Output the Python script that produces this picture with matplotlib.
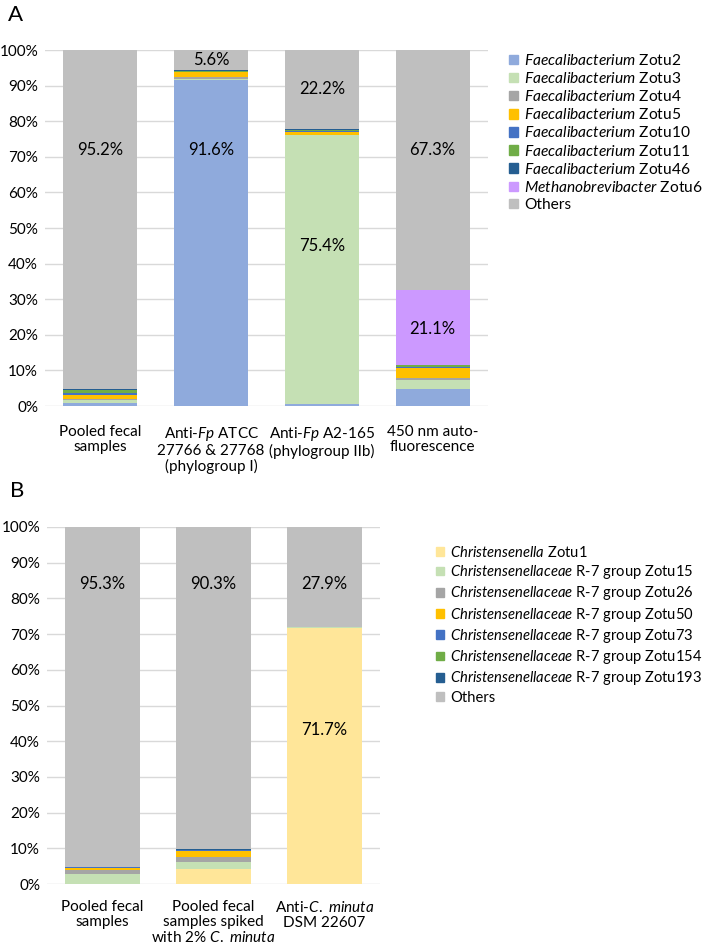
import numpy as np
import matplotlib.pyplot as plt
from matplotlib.patches import Patch

plt.rcParams['font.family'] = ['Lato', 'DejaVu Sans']
plt.rcParams['mathtext.fontset'] = 'custom'
plt.rcParams['mathtext.rm'] = 'Lato'
plt.rcParams['mathtext.it'] = 'Lato:italic'

# ---- Panel A data (percent, bottom to top) ----
a_groups = ['Pooled fecal\nsamples',
            'Anti-$\\mathit{Fp}$ ATCC\n27766 & 27768\n(phylogroup I)',
            'Anti-$\\mathit{Fp}$ A2-165\n(phylogroup IIb)',
            '450 nm auto-\nfluorescence']
a_series = ['$\\mathit{Faecalibacterium}$ Zotu2', '$\\mathit{Faecalibacterium}$ Zotu3',
            '$\\mathit{Faecalibacterium}$ Zotu4', '$\\mathit{Faecalibacterium}$ Zotu5',
            '$\\mathit{Faecalibacterium}$ Zotu10', '$\\mathit{Faecalibacterium}$ Zotu11',
            '$\\mathit{Faecalibacterium}$ Zotu46', '$\\mathit{Methanobrevibacter}$ Zotu6',
            'Others']
a_zotu2 = [0.9, 91.6, 0.6, 4.8]
a_zotu3 = [0.8, 0.3, 75.4, 2.5]
a_zotu4 = [0.2, 0.5, 0.2, 0.6]
a_zotu5 = [1.1, 1.3, 0.8, 2.8]
a_zotu10 = [0.7, 0.1, 0.2, 0.2]
a_zotu11 = [0.8, 0.4, 0.4, 0.5]
a_zotu46 = [0.2, 0.1, 0.1, 0.2]
a_zotu6 = [0.1, 0.1, 0.1, 21.1]
a_others = [95.2, 5.6, 22.2, 67.3]
a_colors = ['#8FAADC', '#C5E0B4', '#A5A5A5', '#FFC000', '#4472C4',
            '#70AD47', '#255E91', '#CC99FF', '#BFBFBF']
# labels: (bar index, text, y position in %)
a_labels = [(0, '95.2%', 72), (1, '91.6%', 72), (1, '5.6%', 97.2), (2, '75.4%', 45),
            (2, '22.2%', 89), (3, '67.3%', 72), (3, '21.1%', 21.5)]

# ---- Panel B data ----
b_groups = ['Pooled fecal\nsamples',
            'Pooled fecal\nsamples spiked\nwith 2% $\\mathit{C.\\ minuta}$',
            'Anti-$\\mathit{C.\\ minuta}$\nDSM 22607']
b_series = ['$\\mathit{Christensenella}$ Zotu1',
            '$\\mathit{Christensenellaceae}$ R-7 group Zotu15',
            '$\\mathit{Christensenellaceae}$ R-7 group Zotu26',
            '$\\mathit{Christensenellaceae}$ R-7 group Zotu50',
            '$\\mathit{Christensenellaceae}$ R-7 group Zotu73',
            '$\\mathit{Christensenellaceae}$ R-7 group Zotu154',
            '$\\mathit{Christensenellaceae}$ R-7 group Zotu193',
            'Others']
b_zotu1 = [0.0, 4.3, 71.7]
b_zotu15 = [2.9, 1.8, 0.2]
b_zotu26 = [1.1, 1.6, 0.1]
b_zotu50 = [0.4, 1.5, 0.05]
b_zotu73 = [0.3, 0.4, 0.05]
b_zotu154 = [0.0, 0.05, 0.0]
b_zotu193 = [0.0, 0.05, 0.0]
b_others = [95.3, 90.3, 27.9]
b_colors = ['#FFE699', '#C5E0B4', '#A5A5A5', '#FFC000', '#4472C4',
            '#70AD47', '#255E91', '#BFBFBF']
b_labels = [(0, '95.3%', 84), (1, '90.3%', 84), (2, '27.9%', 84), (2, '71.7%', 43)]


def stacked(ax, groups, series_vals, colors, labels, xpad):
    x = np.arange(len(groups))
    bottom = np.zeros(len(groups))
    for vals, c in zip(series_vals, colors):
        vals = np.array(vals)
        ax.bar(x, vals, bottom=bottom, width=0.67, color=c, zorder=2)
        bottom += vals
    for i, txt, yy in labels:
        ax.text(x[i], yy, txt, ha='center', va='center', fontsize=12, color='black', zorder=3)
    ax.set_xlim(-0.5, len(groups) - 0.5)
    ax.set_ylim(0, 100)
    ax.set_yticks(np.arange(0, 101, 10))
    ax.set_yticklabels(['%d%%' % v for v in range(0, 101, 10)], fontsize=11)
    ax.set_xticks(x)
    ax.set_xticklabels(groups, fontsize=11, linespacing=1.1)
    ax.tick_params(axis='y', length=0, pad=5)
    ax.tick_params(axis='x', length=0, pad=xpad)
    ax.grid(axis='y', color='#D9D9D9', linewidth=1, zorder=0)
    for s in ax.spines.values():
        s.set_visible(False)


fig = plt.figure(figsize=(7.08, 9.44), dpi=100)
W, H = 708, 944

axA = fig.add_axes([45 / W, 1 - 406 / H, 443 / W, 356 / H])
stacked(axA, a_groups, [a_zotu2, a_zotu3, a_zotu4, a_zotu5, a_zotu10, a_zotu11,
                        a_zotu46, a_zotu6, a_others], a_colors, a_labels, 13.5)

axB = fig.add_axes([47 / W, 1 - 884 / H, 333 / W, 357 / H])
stacked(axB, b_groups, [b_zotu1, b_zotu15, b_zotu26, b_zotu50, b_zotu73,
                        b_zotu154, b_zotu193, b_others], b_colors, b_labels, 11.5)

hA = [Patch(color=c) for c in a_colors]
fig.legend(hA, a_series, loc='upper left', bbox_to_anchor=(509 / W, 1 - 53 / H),
           frameon=False, fontsize=11.2, handlelength=0.55, handleheight=0.55,
           handletextpad=0.4, labelspacing=0.2, borderpad=0, borderaxespad=0)

hB = [Patch(color=c) for c in b_colors]
fig.legend(hB, b_series, loc='upper left', bbox_to_anchor=(436 / W, 1 - 545 / H),
           frameon=False, fontsize=10.6, handlelength=0.55, handleheight=0.55,
           handletextpad=0.4, labelspacing=0.22, borderpad=0, borderaxespad=0)

fig.text(8 / W, 1 - 15 / H, 'A', fontsize=16, va='center', ha='left')
fig.text(10 / W, 1 - 491 / H, 'B', fontsize=16, va='center', ha='left')

fig.savefig('out.png', dpi=100)
